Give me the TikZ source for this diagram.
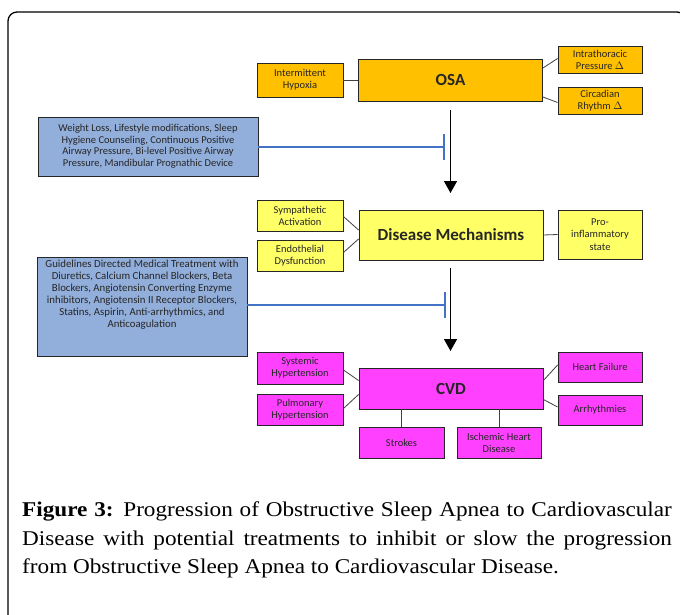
\documentclass[tikz,border=0pt]{standalone}
\usepackage{fontspec}
\setmainfont{Liberation Serif}
\setsansfont{Carlito}
\usetikzlibrary{arrows.meta}
\definecolor{osaC}{HTML}{FFC000}
\definecolor{dmC}{HTML}{FFFF66}
\definecolor{cvdC}{HTML}{FF40FF}
\definecolor{trC}{HTML}{92AEDA}
\definecolor{inhC}{HTML}{4472C4}
\begin{document}
\begin{tikzpicture}[x=1pt,y=-1pt,
  box/.style={draw=black!85, line width=0.9pt, inner sep=1pt, align=center,
    font=\sffamily\fontsize{10.5}{12.2}\selectfont, text=black!85},
  small/.style={box, minimum width=85pt, minimum height=31pt},
  big/.style={box, minimum width=184pt, font=\sffamily\bfseries\fontsize{17}{18}\selectfont},
  treat/.style={box, fill=trC, font=\sffamily\fontsize{10.5}{11.5}\selectfont},
  link/.style={draw=black!75, line width=0.8pt},
  prog/.style={draw=black, line width=1.5pt, -{Triangle[width=13pt,length=12pt]}},
  inhib/.style={draw=inhC, line width=2.5pt, -{Bar[width=26pt]}},
  captxt/.style={anchor=base west, inner sep=0pt, font=\fontsize{21}{29}\selectfont}
]
\useasboundingbox (0,0) rectangle (680,615);
\fill[white] (0,0) rectangle (680,615);
\draw[line width=1.3pt, rounded corners=9pt] (8,660) -- (8,12) -- (686,12) -- (686,660);

% OSA level
\node[big, fill=osaC, minimum height=42pt] (osa) at (450.5,80) {OSA};
\node[small, fill=osaC, minimum width=86pt, minimum height=34pt] (ih) at (300,80) {Intermittent\\Hypoxia};
\node[small, fill=osaC, minimum width=84pt, minimum height=27pt] (itp) at (600,59.5) {Intrathoracic\\Pressure $\Delta$};
\node[small, fill=osaC, minimum width=84pt, minimum height=27pt] (cr) at (600,100.5) {Circadian\\Rhythm $\Delta$};
\draw[link] (ih.east) -- (osa.west);
\draw[link] ([yshift=12pt]osa.east) -- ([yshift=1pt]itp.west);
\draw[link] ([yshift=-17pt]osa.east) -- ([yshift=-2pt]cr.west);

% Disease mechanisms level
\node[big, fill=dmC, minimum height=50pt] (dm) at (451,235) {Disease Mechanisms};
\node[small, fill=dmC, minimum width=86pt] (sa) at (300,215.5) {Sympathetic\\Activation};
\node[small, fill=dmC, minimum width=86pt] (ed) at (300,255.5) {Endothelial\\Dysfunction};
\node[small, fill=dmC, minimum width=84pt, minimum height=49pt] (pi) at (600,234.5) {Pro-\\inflammatory\\state};
\draw[link] ([yshift=-1pt]sa.east) -- ([yshift=5pt]dm.west);
\draw[link] ([yshift=3pt]ed.east) -- ([yshift=-4pt]dm.west);
\draw[link] (dm.east) -- (pi.west);

% CVD level
\node[big, fill=cvdC, minimum height=41pt] (cvd) at (451,388.5) {CVD};
\node[small, fill=cvdC, minimum width=86pt, minimum height=32pt] (sh) at (300,368) {Systemic\\Hypertension};
\node[small, fill=cvdC, minimum width=86pt] (ph) at (300,409.5) {Pulmonary\\Hypertension};
\node[small, fill=cvdC, minimum width=84pt, minimum height=30pt] (hf) at (600,367) {Heart Failure};
\node[small, fill=cvdC, minimum width=84pt, minimum height=30pt] (ar) at (600,410) {Arrhythmies};
\node[small, fill=cvdC, minimum width=85pt] (st) at (401.5,442.5) {Strokes};
\node[small, fill=cvdC, minimum width=84pt] (ihd) at (499,442.5) {Ischemic Heart\\Disease};
\draw[link] ([yshift=-2pt]sh.east) -- ([yshift=8pt]cvd.west);
\draw[link] ([yshift=1pt]ph.east) -- ([yshift=-6pt]cvd.west);
\draw[link] ([yshift=8pt]cvd.east) -- ([yshift=2pt]hf.west);
\draw[link] ([yshift=-11pt]cvd.east) -- ([yshift=3pt]ar.west);
\draw[link] (st.north) -- (st.north |- cvd.south);
\draw[link] (ihd.north) -- (ihd.north |- cvd.south);

% Treatments
\node[treat, minimum width=220pt, minimum height=59pt] (wl) at (148,146.5)
  {Weight Loss, Lifestyle modifications, Sleep\\Hygiene Counseling, Continuous Positive\\Airway Pressure, Bi-level Positive Airway\\Pressure, Mandibular Prognathic Device};
\node[treat, minimum width=210pt, minimum height=99pt] (gl) at (142,306.5) {};
\node[anchor=north, inner sep=0pt, align=center, text=black!85,
  font=\sffamily\fontsize{10.8}{12}\selectfont] (glt) at ([yshift=-3pt]gl.north)
  {Guidelines Directed Medical Treatment with\\Diuretics, Calcium Channel Blockers, Beta\\Blockers, Angiotensin Converting Enzyme\\inhibitors, Angiotensin II Receptor Blockers,\\Statins, Aspirin, Anti-arrhythmics, and\\Anticoagulation};

% Progression arrows
\coordinate (a1s) at (450.5,110);
\coordinate (a1e) at (450.5,193);
\coordinate (a2s) at (450.5,268);
\coordinate (a2e) at (450.5,351);
\draw[prog] (a1s) -- (a1e);
\draw[prog] (a2s) -- (a2e);

% Inhibition
\coordinate (b1) at (445,147);
\coordinate (b2) at (446,305);
\draw[inhib] (wl.east |- b1) -- (b1);
\draw[inhib] (gl.east |- b2) -- (b2);

% Caption
\node[captxt] (cap1) at (22,516.5) {\scalebox{1.105}[1]{\makebox[588pt][s]{\textbf{Figure 3:} Progression of Obstructive Sleep Apnea to Cardiovascular}}};
\node[captxt] (cap2) at (22,545.5) {\scalebox{1.105}[1]{\makebox[588pt][s]{Disease with potential treatments to inhibit or slow the progression}}};
\node[captxt] (cap3) at (22,573.5) {\scalebox{1.105}[1]{from Obstructive Sleep Apnea to Cardiovascular Disease.}};
\end{tikzpicture}
\end{document}
